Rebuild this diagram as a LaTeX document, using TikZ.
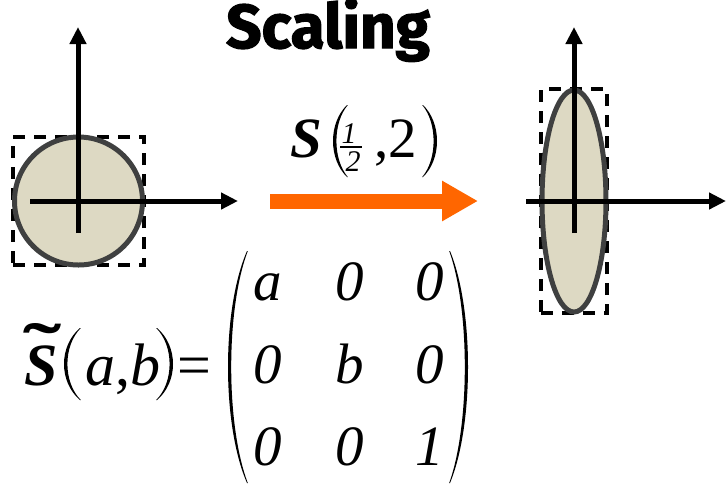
\documentclass[tikz,border=0pt]{standalone}
\usepackage{fontspec}
\setmainfont{Liberation Serif}
\newfontfamily\titlefont{Fira Sans}[BoldFeatures={FakeBold=2}]
\usetikzlibrary{arrows.meta,shapes.geometric}
\definecolor{shapefill}{HTML}{DDD9C3}
\definecolor{shapeline}{HTML}{3F4040}
\definecolor{orangearr}{HTML}{FF6600}
\tikzset{
  axis/.style={line width=5pt,-{Triangle[length=17pt,width=16pt]}},
  bbox/.style={draw=black,line width=3.5pt,dash pattern=on 12pt off 9pt,inner sep=0pt},
  blob/.style={draw=shapeline,fill=shapefill,line width=5pt,inner sep=0pt},
  eqtext/.style={inner sep=0pt,anchor=base west,font=\fontsize{60}{60}\selectfont},
  labtext/.style={inner sep=0pt,anchor=base west,font=\fontsize{57}{57}\selectfont},
  fracdig/.style={inner sep=0pt,anchor=base,font=\fontsize{30}{30}\selectfont\itshape},
  entry/.style={inner sep=0pt,anchor=base,font=\fontsize{57}{57}\selectfont\itshape},
  % parentheses as tapered crescents: height, depth of bulge, thickness
  pics/lpar/.style n args={3}{code={
    \fill (0,-#1/2) .. controls ({-4/3*#2},{-#1/4}) and ({-4/3*#2},{#1/4}) .. (0,#1/2)
      -- (0.8,#1/2) .. controls ({-4/3*#2+4/3*#3},{#1/4}) and ({-4/3*#2+4/3*#3},{-#1/4}) .. (0.8,-#1/2) -- cycle;}},
  pics/rpar/.style n args={3}{code={
    \fill (0,-#1/2) .. controls ({4/3*#2},{-#1/4}) and ({4/3*#2},{#1/4}) .. (0,#1/2)
      -- (-0.8,#1/2) .. controls ({4/3*#2-4/3*#3},{#1/4}) and ({4/3*#2-4/3*#3},{-#1/4}) .. (-0.8,-#1/2) -- cycle;}},
}
\begin{document}
\begin{tikzpicture}[x=1pt,y=-1pt]
\useasboundingbox (0,0) rectangle (727,483);
% title
\node[inner sep=0pt,anchor=base,font=\titlefont\bfseries\fontsize{62}{62}\selectfont] (title) at (328,48) {Scaling};
% left figure
\node[bbox,minimum width=131pt,minimum height=128pt] (lbox) at (78.5,201) {};
\node[blob,circle,minimum size=128pt] (circ) at (78.5,201) {};
\coordinate (lvb) at (78,233);
\coordinate (lvt) at (78,27);
\coordinate (lhl) at (30,201);
\coordinate (lhr) at (238,201);
\draw[axis] (lvb) -- (lvt);
\draw[axis] (lhl) -- (lhr);
% right figure
\node[bbox,minimum width=66pt,minimum height=224pt] (rbox) at (574,201) {};
\node[blob,ellipse,minimum width=64pt,minimum height=222pt] (ell) at (574,201) {};
\coordinate (rvb) at (574,233);
\coordinate (rvt) at (574,27);
\coordinate (rhl) at (526,201);
\coordinate (rhr) at (726,201);
\draw[axis] (rvb) -- (rvt);
\draw[axis] (rhl) -- (rhr);
% orange arrow
\coordinate (oa) at (270,201);
\coordinate (ob) at (478,201);
\draw[orangearr,line width=15pt,-{Triangle[length=36pt,width=38pt]}] (oa) -- (ob);
% arrow label S(1/2,2)
\node[labtext] (labS) at (290,157) {\textbf{\textit{S}}};
\pic at (347,141) {lpar={72}{14}{3.2}};
\node[fracdig] (fnum) at (349,143) {1};
\node[fracdig] (fden) at (353,171) {2};
\coordinate (fb1) at (340,147);
\coordinate (fb2) at (362,147);
\draw[line width=1.4pt] (fb1) -- (fb2);
\node[labtext] (labrest) at (374,157) {,2};
\pic at (423,141) {rpar={72}{14}{3.2}};
% equation left part: S with a wide tilde
\node[eqtext] (lhsS) at (24,385)
  {\rlap{\hspace{-1pt}\raisebox{13.2pt}[0pt][0pt]{\bfseries\scalebox{1.9}[1.15]{\char"02DC}}}\textbf{\textit{S}}};
\pic at (80,364) {lpar={72}{16}{3.2}};
\node[eqtext] (lhsab) at (85,385) {\textit{a},\textit{b}};
\pic at (157,364) {rpar={72}{16}{3.2}};
\node[eqtext] (lhseq) at (177,385) {=};
% matrix entries
\node[entry] (m11) at (268,300) {a};
\node[entry] (m12) at (350,300) {0};
\node[entry] (m13) at (430,300) {0};
\node[entry] (m21) at (268,383) {0};
\node[entry] (m22) at (350,383) {b};
\node[entry] (m23) at (430,383) {0};
\node[entry] (m31) at (268,465) {0};
\node[entry] (m32) at (350,465) {0};
\node[entry] (m33) at (430,465) {1};
% matrix parentheses
\pic at (247,367) {lpar={232}{19}{3}};
\pic at (450,367) {rpar={232}{18}{3}};
\end{tikzpicture}
\end{document}
